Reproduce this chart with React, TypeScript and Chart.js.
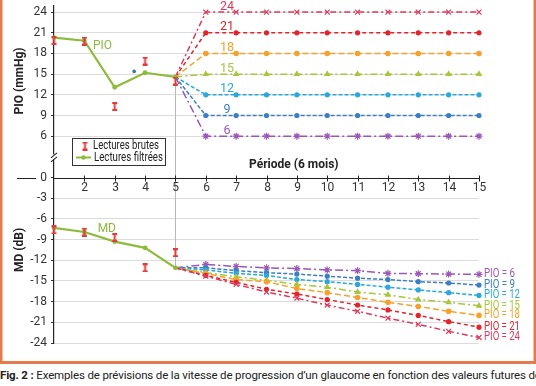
import React, { useEffect, useRef } from 'react';
import { Chart, registerables } from 'chart.js';
Chart.register(...registerables);

// ---------- data ----------
const periods = [1, 2, 3, 4, 5];
const pioRaw = [19.9, 19.8, 10.3, 16.9, 14.0];
const pioFiltered = [20.3, 19.85, 13.1, 15.2, 14.6];
const mdRaw = [-7.6, -7.9, -8.7, -13.1, -10.9];
const mdFiltered = [-7.3, -7.9, -9.3, -10.2, -13.1];
const strayX = [3.64];
const strayY = [15.4];

const futurePeriods = [5, 6, 7, 8, 9, 10, 11, 12, 13, 14, 15];
const pioTargets = [24, 21, 18, 15, 12, 9, 6];

const pioForecast24 = [14.6, 24, 24, 24, 24, 24, 24, 24, 24, 24, 24];
const pioForecast21 = [14.6, 21, 21, 21, 21, 21, 21, 21, 21, 21, 21];
const pioForecast18 = [14.6, 18, 18, 18, 18, 18, 18, 18, 18, 18, 18];
const pioForecast15 = [14.6, 15, 15, 15, 15, 15, 15, 15, 15, 15, 15];
const pioForecast12 = [14.6, 12, 12, 12, 12, 12, 12, 12, 12, 12, 12];
const pioForecast9 = [14.6, 9, 9, 9, 9, 9, 9, 9, 9, 9, 9];
const pioForecast6 = [14.6, 6, 6, 6, 6, 6, 6, 6, 6, 6, 6];

const mdForecast24 = [-13.1, -14.3, -15.5, -16.6, -17.5, -18.5, -19.4, -20.4, -21.3, -22.3, -23.2];
const mdForecast21 = [-13.1, -14.2, -15.2, -16.2, -16.9, -17.7, -18.5, -19.2, -20.0, -20.9, -21.7];
const mdForecast18 = [-13.1, -13.9, -14.8, -15.1, -16.1, -16.7, -17.4, -18.1, -18.7, -19.4, -20.0];
const mdForecast15 = [-13.1, -13.8, -14.4, -14.9, -15.5, -15.9, -16.6, -17.0, -17.7, -18.1, -18.6];
const mdForecast12 = [-13.1, -13.4, -13.9, -14.2, -14.8, -15.1, -15.5, -15.9, -16.3, -16.7, -17.1];
const mdForecast9 = [-13.1, -13.1, -13.5, -13.8, -14.0, -14.3, -14.6, -14.8, -15.1, -15.3, -15.6];
const mdForecast6 = [-13.1, -12.6, -12.9, -13.1, -13.2, -13.4, -13.5, -13.9, -13.95, -14.0, -14.04];

const pioForecasts = [pioForecast24, pioForecast21, pioForecast18, pioForecast15, pioForecast12, pioForecast9, pioForecast6];
const mdForecasts = [mdForecast24, mdForecast21, mdForecast18, mdForecast15, mdForecast12, mdForecast9, mdForecast6];

const yTickValues = [24, 21, 18, 15, 12, 9, 6, 0, -3, -6, -9, -12, -15, -18, -21, -24];
const xTickLabels = [2, 3, 4, 5, 6, 7, 8, 9, 10, 11, 12, 13, 14, 15];

const xAxisTitle = 'Période (6 mois)';
const pioTitle = 'PIO (mmHg)';
const mdTitle = 'MD (dB)';
const legendRaw = 'Lectures brutes';
const legendFiltered = 'Lectures filtrées';

// ---------- styles ----------
const FONT = "Roboto, 'DejaVu Sans', sans-serif";
const GREEN = '#8dbb3c';
const RAW_RED = '#e23b3b';
const FRAME = '#e57a4c';
const forecastStyles = [
  { color: '#dc3a5c', dash: [6, 3, 2, 3], point: 'crossRot', radius: 3.5 },
  { color: '#e2232b', dash: [4, 3], point: 'circle', radius: 2 },
  { color: '#f4a22d', dash: [6, 3], point: 'circle', radius: 2.2 },
  { color: '#a6c63c', dash: [7, 3, 2, 3], point: 'triangle', radius: 2.6 },
  { color: '#2ba7dd', dash: [4, 2], point: 'circle', radius: 2 },
  { color: '#3b7fc2', dash: [4, 2], point: 'circle', radius: 2 },
  { color: '#9b57b4', dash: [8, 3, 2, 3], point: 'star', radius: 3.5 },
];

function makeIBeam(color: string) {
  const c = document.createElement('canvas');
  c.width = 7;
  c.height = 9;
  const g = c.getContext('2d')!;
  g.fillStyle = color;
  g.fillRect(1, 0, 5, 2);
  g.fillRect(2.5, 0, 2, 9);
  g.fillRect(1, 7, 5, 2);
  return c;
}

function fitText(ctx: CanvasRenderingContext2D, txt: string, x: number, y: number, width: number) {
  const w = ctx.measureText(txt).width;
  const sx = Math.min(1, width / w);
  ctx.save();
  ctx.translate(x, y);
  ctx.scale(sx, 1);
  ctx.fillText(txt, 0, 0);
  ctx.restore();
}

export default function App() {
  const ref = useRef<HTMLCanvasElement | null>(null);

  useEffect(() => {
    if (!ref.current) return;
    const iBeam = makeIBeam(RAW_RED);

    const pts = (xs: number[], ys: number[]) => xs.map((x, i) => ({ x, y: ys[i] }));

    const datasets: any[] = [];
    datasets.push({
      data: pts(periods, pioRaw), showLine: false, pointStyle: iBeam, pointRadius: 4, order: -2,
    });
    datasets.push({
      data: pts(periods, mdRaw), showLine: false, pointStyle: iBeam, pointRadius: 4, order: -2,
    });
    datasets.push({
      data: pts(periods, pioFiltered), borderColor: GREEN, backgroundColor: GREEN, borderWidth: 2.2,
      pointRadius: 2.4, pointBackgroundColor: GREEN, pointBorderWidth: 0, order: -1,
    });
    datasets.push({
      data: pts(periods, mdFiltered), borderColor: GREEN, backgroundColor: GREEN, borderWidth: 2.2,
      pointRadius: 2.4, pointBackgroundColor: GREEN, pointBorderWidth: 0, order: -1,
    });
    datasets.push({
      data: pts(strayX, strayY), showLine: false, pointRadius: 1.8, pointBackgroundColor: '#2b6fc0',
      pointBorderWidth: 0, order: 0,
    });
    forecastStyles.forEach((s, k) => {
      [pioForecasts[k], mdForecasts[k]].forEach((arr) => {
        datasets.push({
          data: pts(futurePeriods, arr),
          borderColor: s.color,
          backgroundColor: s.color,
          borderWidth: 1.5,
          borderDash: s.dash,
          pointStyle: s.point,
          pointRadius: (c: any) => (c.dataIndex === 0 ? 0 : s.radius),
          pointBorderColor: s.color,
          pointBackgroundColor: s.color,
          pointBorderWidth: 1.2,
          order: 1 + k,
        });
      });
    });

    const overlay = {
      id: 'overlay',
      beforeDatasetsDraw(chart: any) {
        const { ctx, scales } = chart;
        const x = scales.x, y = scales.y;
        const area = chart.chartArea;
        ctx.save();
        // vertical grey line at last measured period
        const px = Math.round(x.getPixelForValue(periods[4])) + 0.5;
        ctx.strokeStyle = '#b8b8b8';
        ctx.lineWidth = 1;
        ctx.beginPath();
        ctx.moveTo(px, y.getPixelForValue(pioFiltered[4]));
        ctx.lineTo(px, y.getPixelForValue(mdFiltered[4]));
        ctx.stroke();

        // x axis at 0
        const y0 = Math.round(y.getPixelForValue(0)) + 0.5;
        ctx.strokeStyle = '#222';
        ctx.lineWidth = 1.2;
        ctx.beginPath();
        ctx.moveTo(area.left, y0);
        ctx.lineTo(x.getPixelForValue(15) + 1, y0);
        ctx.moveTo(17, y0);
        ctx.lineTo(36, y0);
        ctx.stroke();
        ctx.lineWidth = 1;
        ctx.fillStyle = '#333';
        ctx.font = `12px ${FONT}`;
        ctx.textAlign = 'center';
        ctx.textBaseline = 'middle';
        xTickLabels.forEach((v) => {
          const tx = Math.round(x.getPixelForValue(v)) + 0.5;
          ctx.beginPath();
          ctx.moveTo(tx, y0 - 3);
          ctx.lineTo(tx, y0 + 3);
          ctx.stroke();
          ctx.fillText(String(v), tx, y0 + 9);
        });
        ctx.restore();
      },
      afterDatasetsDraw(chart: any) {
        const { ctx, scales } = chart;
        const x = scales.x, y = scales.y;
        const area = chart.chartArea;
        ctx.save();

        // axis break
        const yb = y.getPixelForValue(3);
        ctx.fillStyle = '#fff';
        ctx.fillRect(area.left - 2, yb - 2.5, 4, 5);
        ctx.strokeStyle = '#222';
        ctx.lineWidth = 1.1;
        ctx.beginPath();
        ctx.moveTo(area.left - 3, yb + 1);
        ctx.lineTo(area.left + 3, yb - 4);
        ctx.moveTo(area.left - 3, yb + 5);
        ctx.lineTo(area.left + 3, yb);
        ctx.stroke();

        // target labels above future PIO lines
        ctx.font = `12.5px ${FONT}`;
        ctx.textAlign = 'center';
        ctx.textBaseline = 'alphabetic';
        pioTargets.forEach((t, k) => {
          ctx.fillStyle = forecastStyles[k].color;
          ctx.fillText(String(t), x.getPixelForValue(6.7), y.getPixelForValue(t) - 2.5);
        });

        // PIO = n labels at right of MD forecasts
        ctx.textAlign = 'left';
        ctx.textBaseline = 'middle';
        ctx.font = `12px ${FONT}`;
        pioTargets.forEach((t, k) => {
          const arr = mdForecasts[k];
          ctx.fillStyle = forecastStyles[k].color;
          fitText(ctx, `PIO = ${t}`, x.getPixelForValue(15) + 5, y.getPixelForValue(arr[arr.length - 1]), t >= 10 ? 36 : 31);
        });

        // series labels
        ctx.fillStyle = GREEN;
        ctx.textAlign = 'center';
        ctx.font = `12px ${FONT}`;
        ctx.fillText('PIO', x.getPixelForValue(2.6), y.getPixelForValue(19.1));
        ctx.fillText('MD', x.getPixelForValue(2.74), y.getPixelForValue(-7.45));

        // x axis title
        ctx.fillStyle = '#222';
        ctx.font = `bold 12px ${FONT}`;
        ctx.fillText(xAxisTitle, x.getPixelForValue(8.9), y.getPixelForValue(0) - 13);

        // y titles
        const vt = (txt: string, val: number) => {
          ctx.save();
          ctx.translate(20, y.getPixelForValue(val));
          ctx.rotate(-Math.PI / 2);
          ctx.fillText(txt, 0, 0);
          ctx.restore();
        };
        vt(pioTitle, 14);
        vt(mdTitle, -10.5);

        // legend
        ctx.fillStyle = '#fff';
        ctx.fillRect(72.5, 138.5, 93, 27);
        ctx.strokeStyle = '#333';
        ctx.lineWidth = 1;
        ctx.strokeRect(72.5, 138.5, 93, 27);
        ctx.drawImage(iBeam, 85 - 3.5, 146 - 4.5);
        ctx.strokeStyle = GREEN;
        ctx.lineWidth = 2;
        ctx.beginPath();
        ctx.moveTo(76, 157.5);
        ctx.lineTo(91, 157.5);
        ctx.stroke();
        ctx.fillStyle = GREEN;
        ctx.beginPath();
        ctx.arc(83.5, 157.5, 2.2, 0, Math.PI * 2);
        ctx.fill();
        ctx.fillStyle = '#222';
        ctx.font = `12px ${FONT}`;
        ctx.textAlign = 'left';
        fitText(ctx, legendRaw, 93, 146, 66);
        fitText(ctx, legendFiltered, 94, 157.5, 69);

        // frame
        ctx.fillStyle = FRAME;
        ctx.fillRect(0, 0, 2.5, 364);
        ctx.fillRect(533.5, 0, 2.5, 364);
        ctx.fillRect(0, 361, 536, 3);
        ctx.restore();
      },
    };

    const chart = new Chart(ref.current, {
      type: 'line',
      data: { datasets },
      options: {
        animation: false,
        responsive: false,
        devicePixelRatio: 1,
        layout: { padding: { left: 0, right: 57, top: 0, bottom: 21 } },
        plugins: { legend: { display: false }, tooltip: { enabled: false } },
        datasets: { line: { clip: false } as any },
        scales: {
          x: { type: 'linear', min: 1, max: 15, display: false },
          y: {
            type: 'linear',
            min: -24,
            max: 25,
            afterBuildTicks: (s: any) => {
              s.ticks = yTickValues.map((v) => ({ value: v }));
            },
            afterFit: (s: any) => {
              s.width = 54;
              s.paddingTop = 0;
              s.paddingBottom = 0;
            },
            ticks: {
              color: '#333',
              font: { family: FONT, size: 12 },
              padding: 4,
              callback: (v: any) => String(v),
            },
            grid: {
              color: (c: any) => (c.tick && c.tick.value === 0 ? 'rgba(0,0,0,0)' : '#dcdcdc'),
              tickColor: '#333',
              tickLength: 3,
              drawTicks: true,
            },
            border: { color: '#222', width: 1.2 },
          },
        },
      },
      plugins: [overlay],
    });
    return () => chart.destroy();
  }, []);

  return (
    <div style={{ position: 'absolute', left: 0, top: 0, width: 536, height: 386, background: '#fff', overflow: 'hidden' }}>
      <canvas ref={ref} width={536} height={364} style={{ position: 'absolute', left: 0, top: 0 }} />
      <div
        style={{
          position: 'absolute', left: 0, top: 368, width: 536, whiteSpace: 'nowrap', overflow: 'hidden',
          fontFamily: FONT, fontSize: 11.5, color: '#222', letterSpacing: '-0.15px', lineHeight: '14px',
        }}
      >
        <b>Fig. 2 :</b> Exemples de prévisions de la vitesse de progression d’un glaucome en fonction des valeurs futures de la PIO
      </div>
    </div>
  );
}
